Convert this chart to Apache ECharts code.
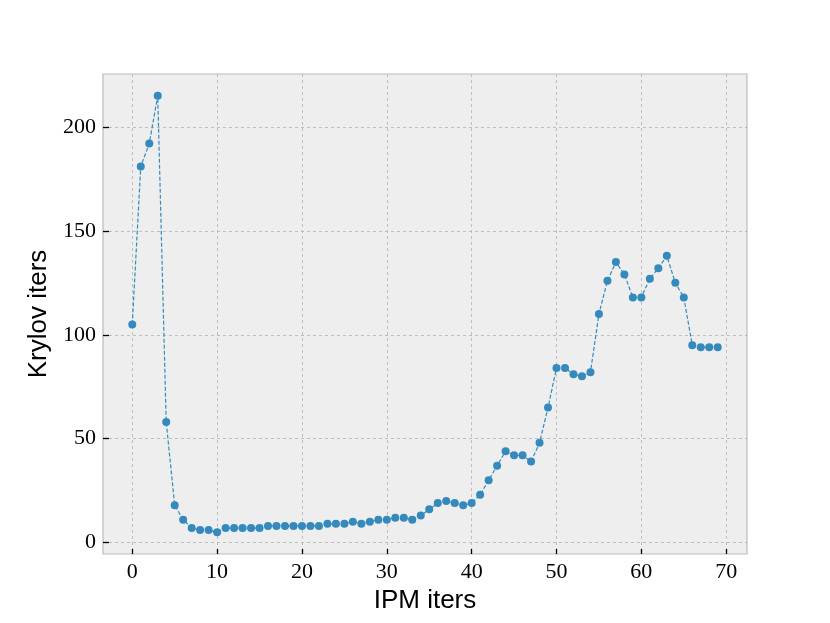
<!DOCTYPE html>
<html>
<head>
<meta charset="utf-8">
<script src="https://cdn.jsdelivr.net/npm/echarts@6/dist/echarts.min.js"></script>
<style>html,body{margin:0;padding:0;background:#fff}#c{width:830px;height:623px}</style>
</head>
<body>
<div id="c"></div>
<script>
const ipmIters = Array.from({length: 70}, (_, i) => i);
const krylovIters = [105, 181, 192, 215, 58, 18, 11, 7, 6, 6,
  5, 7, 7, 7, 7, 7, 8, 8, 8, 8,
  8, 8, 8, 9, 9, 9, 10, 9, 10, 11,
  11, 12, 12, 11, 13, 16, 19, 20, 19, 18,
  19, 23, 30, 37, 44, 42, 42, 39, 48, 65,
  84, 84, 81, 80, 82, 110, 126, 135, 129, 118,
  118, 127, 132, 138, 125, 118, 95, 94, 94, 94];
const xTicks = [0, 10, 20, 30, 40, 50, 60, 70];
const yTicks = [0, 50, 100, 150, 200];
const xLabel = 'IPM iters';
const yLabel = 'Krylov iters';

const xMinD = Math.min(...ipmIters), xMaxD = Math.max(...ipmIters);
const yMinD = Math.min(...krylovIters), yMaxD = Math.max(...krylovIters);
const xm = (xMaxD - xMinD) * 0.05, ym = (yMaxD - yMinD) * 0.05;

const chart = echarts.init(document.getElementById('c'), null, {renderer: 'canvas'});
const tickFont = {fontFamily: 'Liberation Serif', fontSize: 22, color: '#000'};
const nameFont = {fontFamily: 'Liberation Sans', fontSize: 26, color: '#000'};
chart.setOption({
  animation: false,
  grid: {left: 103, top: 74, width: 644, height: 480, show: true,
    backgroundColor: '#eeeeee', borderColor: '#bcbcbc', borderWidth: 1.2},
  xAxis: {
    type: 'value', min: xMinD - xm, max: xMaxD + xm,
    name: xLabel, nameLocation: 'middle', nameGap: 33,
    nameTextStyle: nameFont,
    axisLine: {show: false, onZero: false},
    axisTick: {show: true, inside: true, length: 5, customValues: xTicks, lineStyle: {color: '#000', width: 1.3}},
    axisLabel: Object.assign({customValues: xTicks, margin: 7}, tickFont),
    splitLine: {show: true, lineStyle: {type: [3, 3], color: '#b8b8b8', width: 0.9}}
  },
  yAxis: {
    type: 'value', min: yMinD - ym, max: yMaxD + ym,
    name: yLabel, nameLocation: 'middle', nameGap: 48, nameRotate: 90,
    nameTextStyle: nameFont,
    axisLine: {show: false, onZero: false},
    axisTick: {show: true, inside: true, length: 6, customValues: yTicks, lineStyle: {color: '#000', width: 1.3}},
    axisLabel: Object.assign({customValues: yTicks, margin: 7}, tickFont),
    splitLine: {show: true, lineStyle: {type: [3, 3], color: '#b8b8b8', width: 0.9}}
  },
  series: [{
    type: 'line',
    data: ipmIters.map((x, i) => [x, krylovIters[i]]),
    symbol: 'circle', symbolSize: 8, showSymbol: true,
    itemStyle: {color: '#348ABD'},
    lineStyle: {color: '#348ABD', width: 1.2, type: [4, 2]}
  }]
});
</script>
</body>
</html>
